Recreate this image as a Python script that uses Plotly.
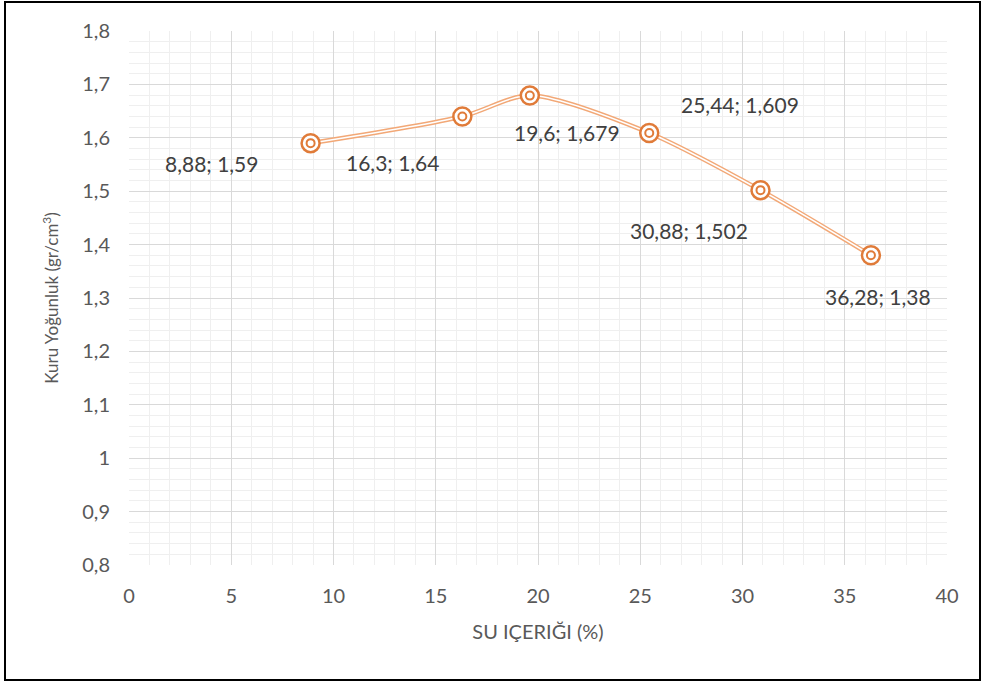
import plotly.graph_objects as go

# Compaction test results: water content (%) vs dry density (gr/cm3)
su_icerigi = [8.88, 16.3, 19.6, 25.44, 30.88, 36.28]
kuru_yogunluk = [1.59, 1.64, 1.679, 1.609, 1.502, 1.38]
etiketler = ["8,88; 1,59", "16,3; 1,64", "19,6; 1,679", "25,44; 1,609",
             "30,88; 1,502", "36,28; 1,38"]
# label offsets in pixels (x, y)
etiket_kaydirma = [(-99, -20), (-70, -46), (37, -37), (91, 28), (-72, -40), (7, -41)]

x_ticks = [0, 5, 10, 15, 20, 25, 30, 35, 40]
y_ticks = [0.8, 0.9, 1.0, 1.1, 1.2, 1.3, 1.4, 1.5, 1.6, 1.7, 1.8]

FONT = "Lato"
TEXT = "#595959"
ORANGE = "#E07B39"
LINE_ORANGE = "#F2A877"

fig = go.Figure()

# double (compound) line: wide orange stroke with a thin white core
fig.add_trace(go.Scatter(x=su_icerigi, y=kuru_yogunluk, mode="lines",
                         line=dict(color=LINE_ORANGE, width=4.5, shape="spline", smoothing=0.8),
                         hoverinfo="skip", showlegend=False))
fig.add_trace(go.Scatter(x=su_icerigi, y=kuru_yogunluk, mode="lines",
                         line=dict(color="white", width=1.5, shape="spline", smoothing=0.8),
                         hoverinfo="skip", showlegend=False))
# ring markers
fig.add_trace(go.Scatter(x=su_icerigi, y=kuru_yogunluk, mode="markers",
                         marker=dict(symbol="circle", size=18, color="white",
                                     line=dict(color=ORANGE, width=2.5)),
                         showlegend=False))
fig.add_trace(go.Scatter(x=su_icerigi, y=kuru_yogunluk, mode="markers",
                         marker=dict(symbol="circle-open", size=8, color=ORANGE,
                                     line=dict(color=ORANGE, width=2)),
                         showlegend=False))

for xv, yv, txt, (dx, dy) in zip(su_icerigi, kuru_yogunluk, etiketler, etiket_kaydirma):
    fig.add_annotation(x=xv, y=yv, xref="x", yref="y", text=txt, showarrow=False,
                       xshift=dx, yshift=dy, font=dict(family=FONT, size=21, color="#404040"))

# outer chart border
fig.add_shape(type="rect", xref="paper", yref="paper",
              x0=(5 - 129) / 818, x1=(980 - 129) / 818,
              y0=(565 - 680) / 534, y1=(565 - 2) / 534,
              line=dict(color="black", width=2), fillcolor="rgba(0,0,0,0)")

fig.update_layout(
    width=985, height=684,
    margin=dict(l=129, r=38, t=31, b=119),
    paper_bgcolor="white", plot_bgcolor="white",
    separators=", ",
    font=dict(family=FONT, color=TEXT),
    xaxis=dict(range=[0, 40], tickvals=x_ticks, showgrid=True, gridcolor="#D9D9D9",
               gridwidth=1.3, zeroline=False, showline=False, ticks="",
               ticklabelstandoff=17,
               tickfont=dict(size=20, color=TEXT),
               minor=dict(dtick=1, showgrid=True, gridcolor="#EFEFEF", gridwidth=1.3),
               title=dict(text="SU IÇERIĞI (%)", font=dict(size=20, color=TEXT), standoff=18)),
    yaxis=dict(range=[0.8, 1.8], tickvals=y_ticks, showgrid=True, gridcolor="#D9D9D9",
               gridwidth=1.3, zeroline=False, showline=False, ticks="",
               ticklabelstandoff=18,
               tickfont=dict(size=20, color=TEXT),
               minor=dict(dtick=0.02, showgrid=True, gridcolor="#EFEFEF", gridwidth=1.3),
               title=dict(text="Kuru Yoğunluk (gr/cm<sup>3</sup>)", font=dict(size=17, color=TEXT),
                          standoff=19)),
)

fig.write_html("out.html")
